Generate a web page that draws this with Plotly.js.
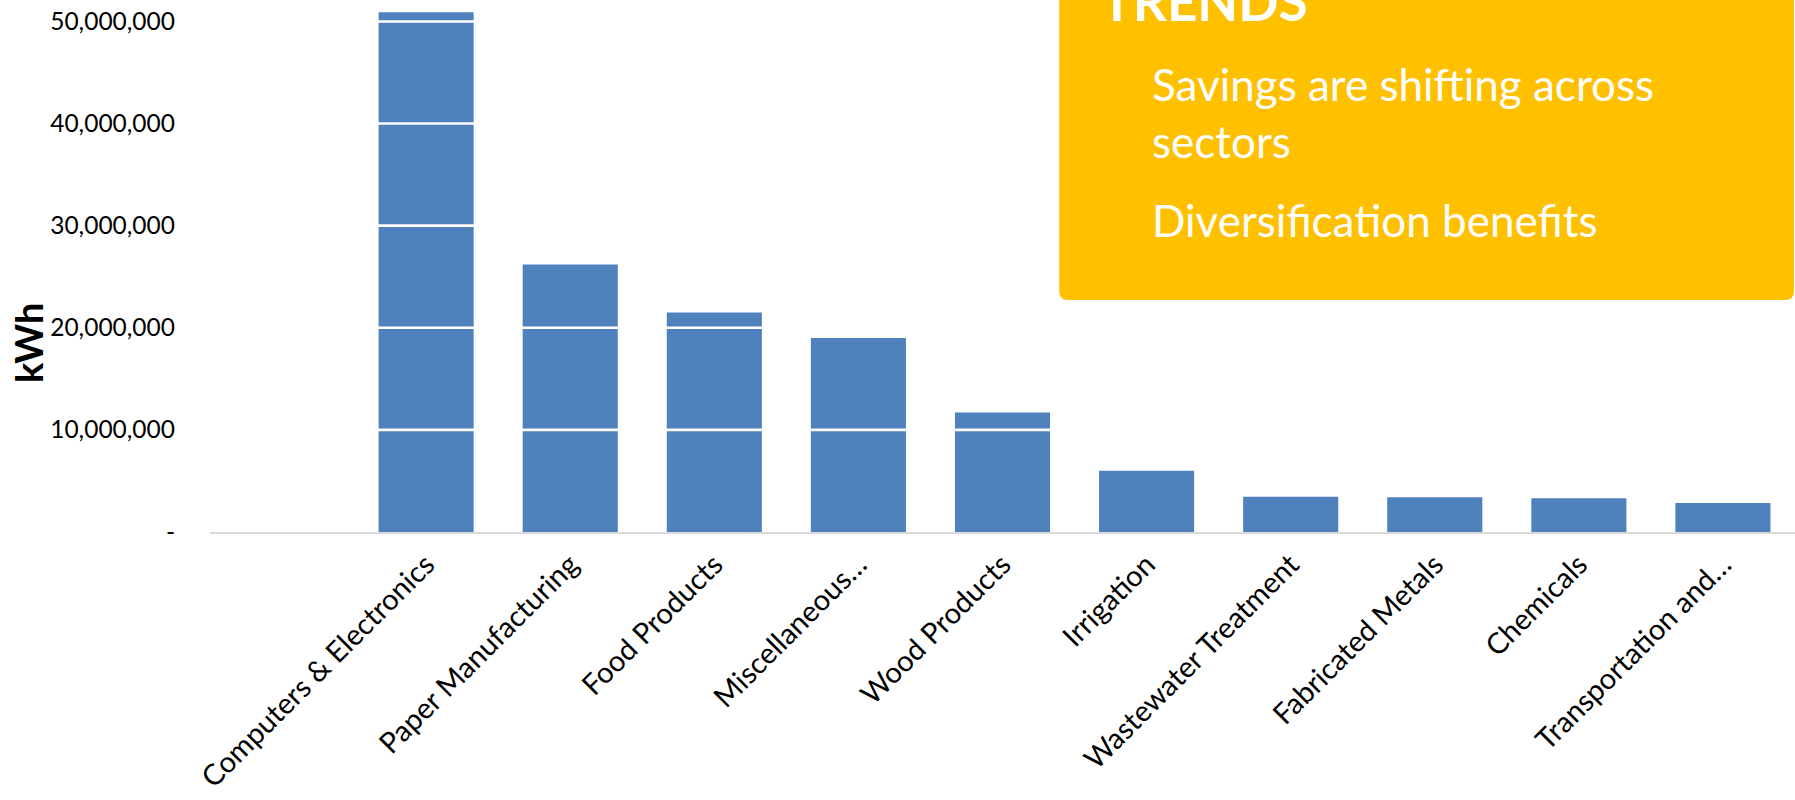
<!DOCTYPE html>
<html>
<head>
<meta charset="utf-8">
<script src="https://cdn.plot.ly/plotly-3.0.1.min.js"></script>
<style>
  html, body { margin: 0; padding: 0; background: #ffffff; }
  #chart { width: 1795px; height: 800px; }
</style>
</head>
<body>
<div id="chart"></div>
<script>
// ---- data ----
const categories = [
  "Computers & Electronics",
  "Paper Manufacturing",
  "Food Products",
  "Miscellaneous…",
  "Wood Products",
  "Irrigation",
  "Wastewater Treatment",
  "Fabricated Metals",
  "Chemicals",
  "Transportation and…"
];
const savingsKWh = [50900000, 26200000, 21500000, 19000000, 11700000, 6000000, 3450000, 3400000, 3300000, 2850000];
const yTickValues = [0, 10000000, 20000000, 30000000, 40000000, 50000000];
const yTickLabels = ["-", "10,000,000", "20,000,000", "30,000,000", "40,000,000", "50,000,000"];
const gridValues = [10000000, 20000000, 30000000, 40000000, 50000000];
const yTitle = "kWh";
const boxTitle = "TRENDS";
const boxPoints = ["Savings are shifting across<br>sectors", "Diversification benefits"];

// ---- layout helpers ----
const W = 1795, H = 800;
const mL = 209.5, mR = 0, mT = 0, mB = 268;
const pw = W - mL - mR, ph = H - mT - mB;
const px = x => (x - mL) / pw;          // pixel x -> paper x
const py = y => (H - mB - y) / ph;      // pixel y -> paper y
const FONT = "Lato, 'Open Sans', sans-serif";

const trace = {
  type: "bar",
  x: categories,
  y: savingsKWh,
  marker: { color: "#4F81BD", line: { width: 0 } },
  hoverinfo: "x+y"
};

const gridShapes = gridValues.map(v => ({
  type: "line", xref: "paper", yref: "y",
  x0: 0, x1: 1, y0: v, y1: v,
  line: { color: "#FFFFFF", width: 2.6 },
  layer: "above"
}));

// rounded yellow box
const bx0 = px(1059), bx1 = px(1794), by0 = py(300), by1 = py(-40);
const rx = 9 / pw, ry = 9 / ph;
const boxPath = `M ${bx0},${by1} L ${bx0},${by0 + ry} Q ${bx0},${by0} ${bx0 + rx},${by0} ` +
  `L ${bx1 - rx},${by0} Q ${bx1},${by0} ${bx1},${by0 + ry} L ${bx1},${by1} Z`;
const boxShape = {
  type: "path", xref: "paper", yref: "paper", path: boxPath,
  fillcolor: "#FFC000", line: { width: 0 }, layer: "above"
};

const annotations = [
  {
    text: "<b>" + yTitle + "</b>", xref: "paper", yref: "paper",
    x: px(27.5), y: py(343), xanchor: "center", yanchor: "middle", showarrow: false,
    textangle: -90,
    font: { family: FONT, size: 38, color: "#000000" }
  },
  {
    text: "<b>" + boxTitle + "</b>", xref: "paper", yref: "paper",
    x: px(1099), y: py(1), xanchor: "left", yanchor: "middle", showarrow: false,
    font: { family: FONT, size: 53, color: "#FFFFFF" }
  },
  {
    text: boxPoints[0], xref: "paper", yref: "paper", align: "left",
    x: px(1150), y: py(113), xanchor: "left", yanchor: "middle", showarrow: false,
    font: { family: FONT, size: 44, color: "#FFFFFF" }
  },
  {
    text: boxPoints[1], xref: "paper", yref: "paper", align: "left",
    x: px(1150), y: py(220), xanchor: "left", yanchor: "middle", showarrow: false,
    font: { family: FONT, size: 44, color: "#FFFFFF" }
  }
];

const layout = {
  width: W, height: H,
  margin: { l: mL, r: mR, t: mT, b: mB, pad: 0 },
  paper_bgcolor: "#FFFFFF", plot_bgcolor: "#FFFFFF",
  showlegend: false,
  bargap: 0.34,
  font: { family: FONT, color: "#000000" },
  xaxis: {
    type: "category",
    categoryorder: "array", categoryarray: categories,
    range: [-1.5, 9.5],
    showline: true, linecolor: "#D9D9D9", linewidth: 2,
    showgrid: false, zeroline: false, ticks: "",
    tickangle: -45,
    ticklabelstandoff: 2,
    tickfont: { family: FONT, size: 29, color: "#000000" },
    automargin: false
  },
  yaxis: {
    range: [0, 52100000],
    tickmode: "array", tickvals: yTickValues, ticktext: yTickLabels,
    showgrid: false, zeroline: false, showline: false, ticks: "",
    ticklabelstandoff: 34,
    tickfont: { family: FONT, size: 24.5, color: "#000000" },
    automargin: false
  },
  shapes: gridShapes.concat([boxShape]),
  annotations: annotations
};

Plotly.newPlot("chart", [trace], layout, { displayModeBar: false, staticPlot: true });
</script>
</body>
</html>
